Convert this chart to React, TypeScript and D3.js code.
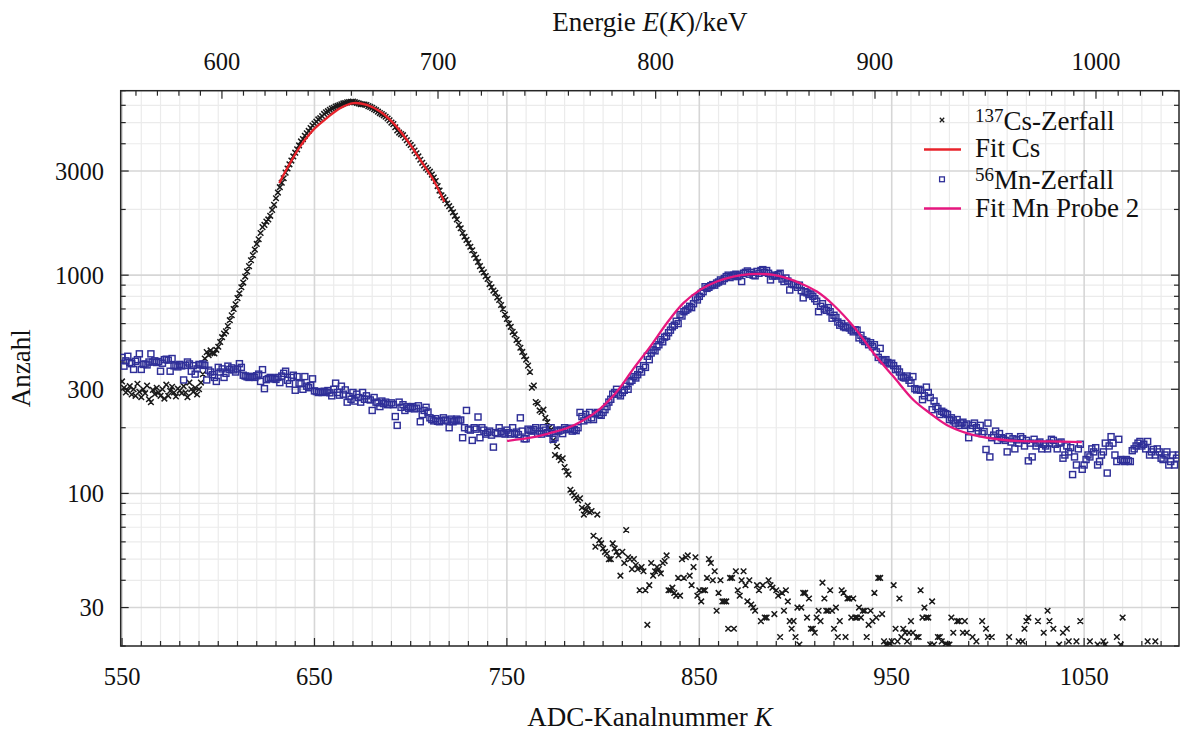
import React from 'react';
import * as d3 from 'd3';

// ---------- data ----------
const K0 = 550; // first ADC channel of both count arrays (one value per channel)

const csCounts: number[] = [
  326, 305, 290, 296, 310, 284, 300, 280, 318, 292,
  276, 300, 288, 312, 270, 262, 298, 285, 305, 290,
  280, 300, 272, 315, 280, 295, 308, 290, 278, 302,
  296, 288, 310, 290, 276, 322, 300, 292, 305, 284,
  300, 322, 352, 415, 444, 430, 452, 440, 438, 455,
  470, 494, 520, 540, 553, 585, 622, 655, 700, 735,
  785, 825, 880, 925, 985, 1040, 1100, 1170, 1235, 1310,
  1390, 1460, 1560, 1660, 1700, 1760, 1800, 1870, 1990, 2100,
  2250, 2390, 2530, 2650, 2780, 2950, 3080, 3220, 3350, 3500,
  3640, 3770, 3930, 4100, 4200, 4350, 4470, 4580, 4720, 4850,
  4950, 5050, 5170, 5240, 5350, 5480, 5570, 5640, 5720, 5800,
  5850, 5920, 5960, 6010, 6060, 6120, 6150, 6190, 6210, 6230,
  6240, 6200, 6160, 6120, 6080, 6070, 6050, 6020, 5950, 5900,
  5840, 5760, 5700, 5610, 5530, 5470, 5400, 5320, 5220, 5120,
  5000, 4920, 4760, 4600, 4500, 4430, 4380, 4260, 4150, 4030,
  3950, 3850, 3720, 3620, 3500, 3380, 3270, 3180, 3100, 3040,
  2980, 2890, 2800, 2700, 2560, 2440, 2320, 2270, 2210, 2130,
  2070, 2010, 1940, 1870, 1800, 1700, 1640, 1560, 1500, 1450,
  1400, 1350, 1300, 1240, 1200, 1150, 1100, 1060, 1030, 990,
  960, 910, 880, 850, 830, 790, 770, 730, 700, 660,
  630, 600, 580, 550, 535, 505, 490, 465, 445, 425,
  410, 385, 360, 305, 312, 262, 258, 240, 236, 242,
  222, 212, 200, 196, 175, 150, 164, 147, 142, 145,
  132, 126, 122, 104, 101, 98, 96, 93, 95, 86,
  80, 84, 88, 82, 83, 64, 57, 80, 61, 59,
  56, 54, 53, 50, 50, 59, 56, 54, 52, 42,
  54, 48, 68, 51, 50, 45, 50, 47, 45, 36,
  46, 44, 36, 25, 38, 48, 42, 44, 46, 45,
  43, 48, 49, 52, 36, 36, 37, 35, 34, 41,
  34, 50, 41, 51, 52, 42, 38, 46, 51, 34,
  36, 32, 36, 36, 41, 50, 48, 40, 44, 29,
  35, 40, 32, 32, 32, 24, 41, 41, 24, 44,
  36, 34, 40, 44, 38, 32, 40, 31, 30, 29,
  38, 36, 26, 38, 27, 27, 40, 38, 37, 28,
  36, 34, 22, 35, 29, 36, 32, 26, 24, 26,
  22, 30, 20.3, 30, 35, 35, 27, 33, 24, 24,
  23, 27, 29, 26, 39, 33, 29, 29, 36, 29,
  24, 30, 22, 26, 36, 35, 22, 33, 33, 27,
  33, 27, 27, 30, 27, 29, 29, 22, 25, 29,
  26, 35, 27, 41, 41, 28, 21, 20.3, 20.3, 20.5,
  21, 38, 24, 21, 33, 22, 24, 23, 21, 23,
  26, 23, 18, 22, 22, 36, 27, 30, 27, 27,
  20.3, 32, 20.3, 18, 22, 22, 21, 17, 20.5, 20.3,
  20.3, 27, 23, 18, 26, 26, 17, 23, 26, 23,
  16, 18, 22, 17, 21, 18, 16, 26, 19, 24,
  22, 17, 22, 18, 15, 19, 17, 16, 18, 19,
  17, 22, 18, 15, 19, 17, 21, 16, 21, 24,
  26, 27, 18, 17, 19, 16, 26, 18, 17, 23,
  18, 29, 26, 19, 24, 17, 18, 20.3, 16, 23,
  19, 24, 21, 17, 18, 16, 21, 19, 26, 17,
  18, 16, 19, 21, 17, 15, 18, 20.3, 17, 19,
  21, 20.3, 16, 18, 17, 19, 15, 22, 18, 20.3,
  27, 17, 16, 18, 15, 17, 19, 16, 18, 17,
  16, 19, 18, 21, 17, 16, 18, 21, 19, 15,
  17, 18, 16, 19, 17, 15, 18, 16, 17, 18,
];

const mnCounts: number[] = [
  420, 383, 405, 425, 398, 393, 370, 403, 410, 436,
  370, 390, 392, 388, 400, 436, 400, 405, 398, 402,
  363, 395, 410, 412, 408, 363, 415, 384, 386, 380,
  390, 384, 331, 386, 400, 392, 363, 385, 352, 372,
  390, 388, 392, 386, 331, 367, 360, 350, 340, 326,
  378, 360, 372, 340, 355, 383, 370, 376, 368, 360,
  372, 393, 378, 348, 345, 342, 340, 344, 341, 340,
  346, 352, 326, 369, 302, 332, 336, 340, 338, 335,
  333, 340, 322, 345, 355, 363, 330, 318, 340, 348,
  297, 343, 320, 318, 300, 343, 310, 305, 312, 335,
  295, 293, 290, 292, 290, 294, 291, 296, 289, 280,
  300, 320, 290, 282, 310, 285, 298, 262, 278, 270,
  290, 265, 285, 275, 262, 290, 270, 280, 270, 268,
  240, 275, 262, 260, 250, 265, 258, 262, 255, 256,
  260, 255, 225, 205, 262, 248, 255, 240, 250, 245,
  248, 250, 244, 246, 252, 213, 230, 240, 248, 236,
  222, 218, 215, 220, 214, 213, 216, 222, 217, 215,
  200, 219, 213, 216, 219, 215, 217, 180, 200, 240,
  197, 195, 175, 200, 197, 224, 180, 200, 195, 187,
  190, 193, 185, 163, 190, 188, 200, 192, 189, 187,
  195, 190, 187, 200, 188, 191, 186, 222, 193, 178,
  178, 197, 194, 193, 196, 200, 188, 193, 187, 200,
  195, 190, 189, 200, 177, 180, 195, 193, 195, 188,
  200, 196, 197, 199, 193, 196, 194, 200, 235, 225,
  215, 230, 218, 235, 222, 218, 232, 235, 230, 228,
  235, 242, 250, 262, 270, 285, 290, 300, 285, 280,
  290, 297, 310, 300, 325, 330, 343, 338, 350, 369,
  360, 385, 378, 425, 410, 440, 455, 450, 470, 480,
  506, 495, 520, 525, 545, 560, 580, 590, 615, 600,
  660, 650, 680, 690, 700, 720, 710, 740, 787, 770,
  800, 825, 840, 885, 870, 880, 895, 905, 900, 920,
  930, 951, 940, 965, 985, 1000, 975, 990, 1000, 1010,
  985, 1000, 935, 1020, 1030, 1045, 1010, 1030, 1000, 993,
  1040, 1020, 1050, 1060, 1030, 1050, 1020, 951, 990, 1000,
  990, 1005, 1020, 960, 935, 970, 940, 855, 915, 905,
  905, 880, 900, 850, 787, 840, 830, 815, 820, 800,
  780, 760, 680, 720, 740, 700, 690, 710, 680, 635,
  655, 640, 610, 590, 600, 580, 575, 585, 573, 560,
  550, 562, 560, 516, 530, 506, 497, 497, 480, 490,
  470, 480, 445, 420, 462, 410, 405, 410, 398, 392,
  395, 385, 369, 372, 360, 345, 340, 338, 345, 330,
  320, 343, 302, 298, 300, 297, 269, 280, 307, 290,
  275, 242, 265, 250, 245, 230, 238, 235, 232, 230,
  218, 222, 215, 210, 218, 205, 210, 212, 205, 208,
  180, 198, 205, 210, 200, 193, 205, 188, 192, 159,
  210, 147, 180, 185, 193, 175, 188, 180, 178, 175,
  155, 182, 172, 178, 160, 176, 170, 182, 178, 165,
  175, 141, 170, 147, 177, 165, 170, 172, 160, 168,
  165, 160, 170, 177, 175, 168, 160, 170, 172, 145,
  150, 165, 155, 162, 122, 147, 135, 160, 168, 129,
  135, 143, 150, 147, 160, 155, 162, 135, 140, 150,
  155, 170, 124, 165, 182, 170, 150, 140, 177, 143,
  142, 140, 143, 141, 140, 157, 160, 165, 170, 173,
  165, 168, 160, 173, 150, 155, 159, 150, 160, 155,
  145, 143, 150, 155, 135, 140, 150, 135, 145, 150,
];

// fit curves
const csFitK = [631.7, 637.3, 642.5, 649.4, 656.4, 663.3, 670.2, 677.2, 684.1, 691.0, 698.0, 704.9, 711.8, 717.5];
const csFitV = [2640, 3260, 3880, 4630, 5240, 5820, 6140, 6030, 5620, 4970, 4170, 3380, 2730, 2170];

const mnFitK = [750.1, 763.8, 772.4, 781.1, 789.6, 798.4, 807.1, 815.7, 824.4, 833.1, 841.7, 850.4, 859.1, 867.7, 876.4, 881.6, 888.5, 895.5, 902.4, 911.1, 919.7, 931.0, 940.5, 950.9, 961.3, 969.9, 978.6, 989.0, 1001.1, 1014.8, 1032.1, 1048.8];
const mnFitV = [174, 181, 189, 199, 216, 244, 292, 372, 469, 602, 744, 856, 935, 985, 1010, 1013, 1003, 969, 919, 841, 730, 570, 440, 343, 268, 233, 206, 189, 179, 174, 173, 172];

// ticks
const xMajorTicks = [550, 650, 750, 850, 950, 1050];
const yMajorTicks = [30, 100, 300, 1000, 3000];
const yMinorTicks = [20, 40, 50, 60, 70, 80, 90, 200, 400, 500, 600, 700, 800, 900, 2000, 4000, 5000, 6000, 7000];
const eMajorTicks = [600, 700, 800, 900, 1000];

// energy calibration E(K) = a + b K + c K^2 (keV)
const CAL = { a: 51.4, b: 0.929, c: -2.92e-5 };

const FONT = "'Liberation Serif', 'Times New Roman', serif";

export default function App() {
  const W = 1181, H = 731;
  const L = 120.7, R = 1179, T = 90.7, B = 646;

  const x = d3.scaleLinear().domain([549.3, 1099.3]).range([L, R]);
  const y = d3.scaleLog().domain([20, 7000]).range([B, T]);

  const kOfE = (E: number) => {
    const { a, b, c } = CAL;
    return (-b + Math.sqrt(b * b - 4 * c * (a - E))) / (2 * c);
  };

  const xMinor = d3.range(550, 1100, 10).filter((k) => !xMajorTicks.includes(k));
  const eMinor = d3.range(560, 1040, 10).filter((e) => e % 100 !== 0);

  const line = d3
    .line<[number, number]>()
    .x((d) => x(d[0]))
    .y((d) => y(d[1]))
    .curve(d3.curveCatmullRom.alpha(0.5));

  const csPts = csCounts.map((v, i) => [K0 + i, v] as [number, number]);
  const mnPts = mnCounts.map((v, i) => [K0 + i, v] as [number, number]);
  const csFit = csFitK.map((k, i) => [k, csFitV[i]] as [number, number]);
  const mnFit = mnFitK.map((k, i) => [k, mnFitV[i]] as [number, number]);

  const major = 8, minor = 5;
  const cs = 2.8; // cross half-size
  const sq = 3.0; // square half-size

  const cross = (cx: number, cy: number, h: number) =>
    `M${cx - h},${cy - h}L${cx + h},${cy + h}M${cx - h},${cy + h}L${cx + h},${cy - h}`;

  const csPath = csPts.map((d) => cross(x(d[0]), y(d[1]), cs)).join('');

  const frameColor = '#262626';
  const mnColor = '#2f2f98';

  return (
    <svg
      width={W}
      height={H}
      style={{ position: 'absolute', left: 0, top: 0, background: '#fff' }}
      fontFamily={FONT}
    >
      <defs>
        <clipPath id="plotClip">
          <rect x={L} y={T} width={R - L} height={B - T} />
        </clipPath>
      </defs>
      <rect x={0} y={0} width={W} height={H} fill="#fff" />

      {/* minor grid */}
      <g stroke="#ebebeb" strokeWidth={1.2}>
        {xMinor.map((k) => (
          <line key={'gx' + k} x1={x(k)} x2={x(k)} y1={T} y2={B} />
        ))}
        {yMinorTicks.map((v) => (
          <line key={'gy' + v} x1={L} x2={R} y1={y(v)} y2={y(v)} />
        ))}
      </g>
      {/* major grid */}
      <g stroke="#d6d6d6" strokeWidth={1.6}>
        {xMajorTicks.map((k) => (
          <line key={'Gx' + k} x1={x(k)} x2={x(k)} y1={T} y2={B} />
        ))}
        {yMajorTicks.map((v) => (
          <line key={'Gy' + v} x1={L} x2={R} y1={y(v)} y2={y(v)} />
        ))}
      </g>

      {/* ticks */}
      <g stroke={frameColor} strokeWidth={1.2}>
        {xMinor.map((k) => (
          <line key={'tx' + k} x1={x(k)} x2={x(k)} y1={B} y2={B - minor} />
        ))}
        {xMajorTicks.map((k) => (
          <line key={'Tx' + k} x1={x(k)} x2={x(k)} y1={B} y2={B - major} />
        ))}
        {eMinor.map((e) => (
          <line key={'te' + e} x1={x(kOfE(e))} x2={x(kOfE(e))} y1={T} y2={T + minor} />
        ))}
        {eMajorTicks.map((e) => (
          <line key={'Te' + e} x1={x(kOfE(e))} x2={x(kOfE(e))} y1={T} y2={T + major} />
        ))}
        {yMinorTicks.map((v) => (
          <g key={'ty' + v}>
            <line x1={L} x2={L + minor} y1={y(v)} y2={y(v)} />
            <line x1={R} x2={R - minor} y1={y(v)} y2={y(v)} />
          </g>
        ))}
        {yMajorTicks.map((v) => (
          <g key={'Ty' + v}>
            <line x1={L} x2={L + major} y1={y(v)} y2={y(v)} />
            <line x1={R} x2={R - major} y1={y(v)} y2={y(v)} />
          </g>
        ))}
      </g>

      {/* frame */}
      <rect x={L} y={T} width={R - L} height={B - T} fill="none" stroke={frameColor} strokeWidth={1.5} />

      {/* data */}
      <g clipPath="url(#plotClip)">
        <path d={csPath} stroke="#1a1a1a" strokeWidth={1.5} fill="none" />
        <path d={line(csFit) || ''} stroke="#e8232b" strokeWidth={2.3} fill="none" />
        <g stroke={mnColor} strokeWidth={1.45} fill="none">
          {mnPts.map((d, i) => (
            <rect key={'m' + i} x={x(d[0]) - sq} y={y(d[1]) - sq} width={2 * sq} height={2 * sq} />
          ))}
        </g>
        <path d={line(mnFit) || ''} stroke="#e6177f" strokeWidth={2.3} fill="none" />
      </g>

      {/* tick labels */}
      <g fontSize={24.5} fill="#111">
        {xMajorTicks.map((k) => (
          <text key={'lx' + k} x={x(k)} y={685} textAnchor="middle">
            {k}
          </text>
        ))}
        {eMajorTicks.map((e) => (
          <text key={'le' + e} x={x(kOfE(e))} y={70} textAnchor="middle">
            {e}
          </text>
        ))}
        {yMajorTicks.map((v) => (
          <text key={'ly' + v} x={104} y={y(v) + 8.5} textAnchor="end">
            {v}
          </text>
        ))}
      </g>

      {/* axis labels */}
      <g fontSize={27} fill="#111">
        <text x={(L + R) / 2} y={726} textAnchor="middle">
          ADC-Kanalnummer <tspan fontStyle="italic">K</tspan>
        </text>
        <text x={(L + R) / 2} y={31} textAnchor="middle">
          Energie <tspan fontStyle="italic">E</tspan>(<tspan fontStyle="italic">K</tspan>)/keV
        </text>
        <text transform={`translate(30,${(T + B) / 2}) rotate(-90)`} textAnchor="middle">
          Anzahl
        </text>
      </g>

      {/* legend */}
      <g fontSize={27} fill="#111">
        <path d={cross(942, 120, 2.2)} stroke="#1a1a1a" strokeWidth={1.3} />
        <text x={975} y={130}>
          <tspan fontSize={19} dy={-8}>137</tspan>
          <tspan dy={8}>Cs-Zerfall</tspan>
        </text>
        <line x1={924} x2={961} y1={149.5} y2={149.5} stroke="#e8232b" strokeWidth={2.3} />
        <text x={975} y={157}>Fit Cs</text>
        <rect x={942 - 2.4} y={179.3 - 2.4} width={4.8} height={4.8} fill="none" stroke={mnColor} strokeWidth={1.3} />
        <text x={975} y={189}>
          <tspan fontSize={19} dy={-8}>56</tspan>
          <tspan dy={8}>Mn-Zerfall</tspan>
        </text>
        <line x1={924} x2={961} y1={208.5} y2={208.5} stroke="#e6177f" strokeWidth={2.3} />
        <text x={975} y={217}>Fit Mn Probe 2</text>
      </g>
    </svg>
  );
}
